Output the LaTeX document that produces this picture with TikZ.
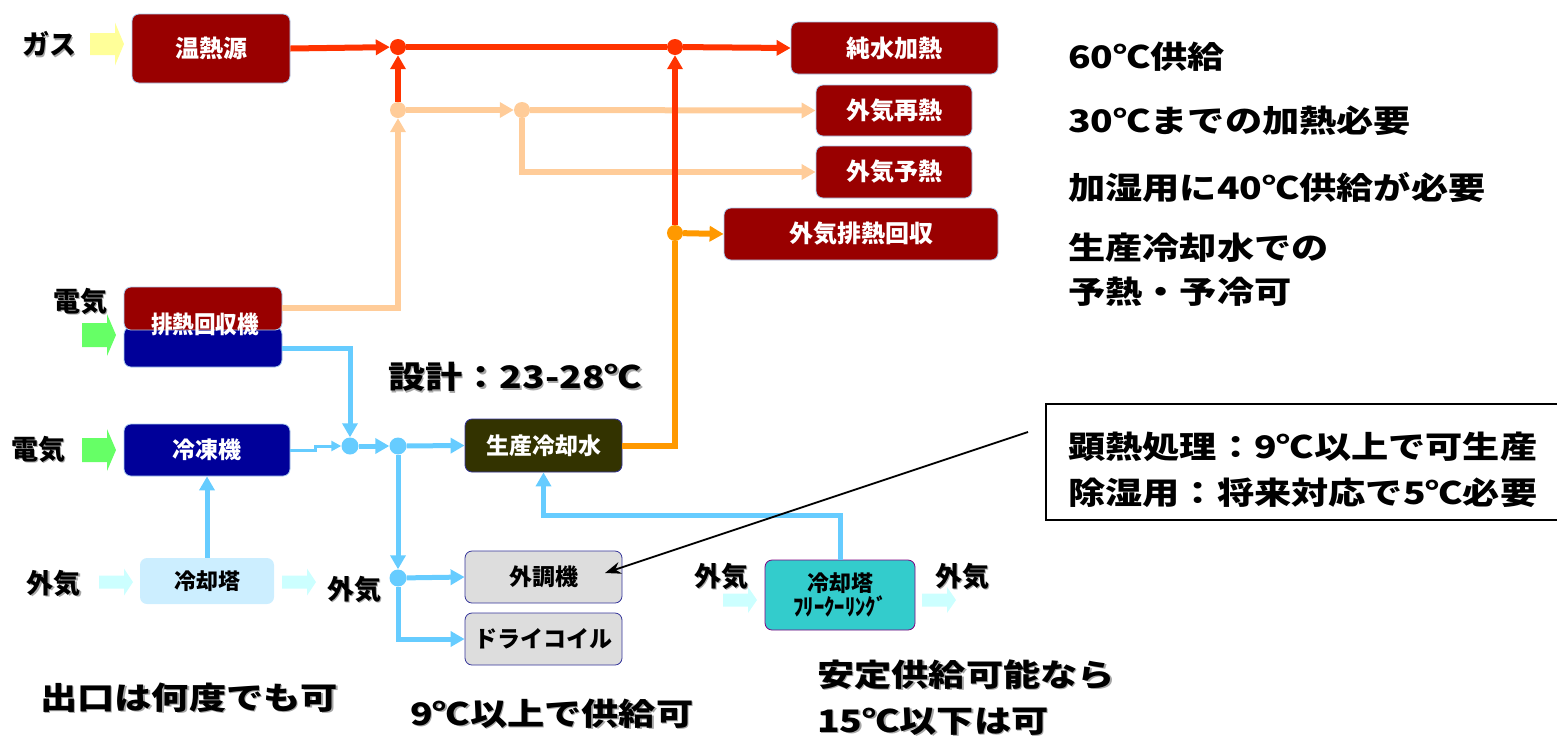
\documentclass[tikz,border=0pt]{standalone}
\usepackage{fontspec}
\setmainfont{Noto Sans CJK JP}
\newfontfamily\jp{Noto Sans CJK JP}
\newfontfamily\jpw{Noto Sans CJK JP}[FakeStretch=1.2]
\newfontfamily\jpn{Noto Sans CJK JP}[FakeStretch=0.9]
\usetikzlibrary{arrows.meta,shapes.geometric}
\definecolor{dkred}{HTML}{990000}
\definecolor{lred}{HTML}{FF3300}
\definecolor{peach}{HTML}{FFCC99}
\definecolor{orng}{HTML}{FF9900}
\definecolor{dkblue}{HTML}{000099}
\definecolor{lblue}{HTML}{66CCFF}
\definecolor{olive}{HTML}{333300}
\definecolor{gbox}{HTML}{DDDDDD}
\definecolor{gedge}{HTML}{333399}
\definecolor{teal}{HTML}{33CCCC}
\definecolor{purp}{HTML}{800080}
\definecolor{ctbox}{HTML}{CCEEFF}
\definecolor{yarr}{HTML}{FFFF99}
\definecolor{garr}{HTML}{66FF66}
\definecolor{carr}{HTML}{CCFFFF}
\definecolor{boxedge}{HTML}{AACCEE}
\newcommand\shd[1]{\makebox[0pt][l]{\kern1.5pt\raisebox{-1.5pt}{\color{black!35}#1}}#1}
% block arrow: x (left), y (centre), colour, body half-height, head half-height
\newcommand\barrow[5]{%
  \fill[#3] (#1,#2) ++(0,-#4) -- ++(25,0) -- ++(0,#4-#5) -- ++(9,#5)
     -- ++(-9,#5) -- ++(0,#4-#5) -- ++(-25,0) -- cycle;}
\begin{document}
\begin{tikzpicture}[x=1pt,y=-1pt,
  box/.style={rounded corners=7pt, line width=0.8pt, inner sep=0pt},
  redbox/.style={box, fill=dkred, draw=boxedge, text=white, font=\jp\bfseries\fontsize{24}{26}\selectfont},
  bluebox/.style={box, fill=dkblue, draw=boxedge, text=white, font=\jp\bfseries\fontsize{23}{26}\selectfont},
  graybox/.style={box, fill=gbox, draw=gedge, text=black, font=\jp\bfseries\fontsize{23}{26}\selectfont},
  lab/.style={font=\jp\bfseries\fontsize{27}{30}\selectfont, inner sep=0pt},
  big/.style={font=\jpw\bfseries\fontsize{31}{38}\selectfont, inner sep=0pt, anchor=west},
  rdot/.style={circle, fill=#1, minimum size=16pt, inner sep=0pt},
  bdot/.style={circle, fill=lblue, minimum size=17pt, inner sep=0pt},
  redl/.style={draw=lred, line width=6pt},
  peachl/.style={draw=peach, line width=6pt},
  orl/.style={draw=orng, line width=6pt},
  bluel/.style={draw=lblue, line width=5pt},
  tip/.style={-{Triangle[length=14pt,width=15pt]}},
  stip/.style={-{Triangle[length=10pt,width=10pt]}}
]
\useasboundingbox (0,0) rectangle (1557,740);

% ---------- boxes ----------
\node[redbox, minimum width=158pt, minimum height=69pt] (heat) at (211,48.5) {温熱源};
\node[redbox, minimum width=207pt, minimum height=52pt] (junsui) at (894.5,48) {純水加熱};
\node[redbox, minimum width=156pt, minimum height=51pt] (saine) at (894,110.5) {外気再熱};
\node[redbox, minimum width=156pt, minimum height=52pt] (yone) at (894,172) {外気予熱};
\node[redbox, minimum width=274pt, minimum height=52pt] (haine) at (861,234) {外気排熱回収};

% heat recovery unit (two halves)
\node[box, fill=dkblue, draw=boxedge, minimum width=158pt, minimum height=40pt] (hrbot) at (203,347) {};
\node[box, fill=dkred, draw=boxedge, minimum width=158pt, minimum height=43pt] (hrtop) at (203,308.5) {};
\node[text=white, font=\jpn\bfseries\fontsize{24}{26}\selectfont, inner sep=0pt] (hrtxt) at (205,324) {排熱回収機};

\node[bluebox, minimum width=166pt, minimum height=52pt] (reito) at (207,450) {冷凍機};
\node[box, fill=ctbox, text=black, minimum width=134pt, minimum height=46pt, font=\jp\bfseries\fontsize{22}{26}\selectfont] (ct) at (207,581) {冷却塔};

\node[box, fill=olive, draw=gedge, text=white, minimum width=157pt, minimum height=53pt, font=\jp\bfseries\fontsize{23}{26}\selectfont] (seisan) at (543.5,445.5) {生産冷却水};
\node[graybox, minimum width=157pt, minimum height=52pt] (gaicho) at (543.5,577) {外調機};
\node[graybox, minimum width=157pt, minimum height=52pt] (dry) at (543.5,639) {ドライコイル};
\node[box, fill=teal, draw=purp, text=black, minimum width=150pt, minimum height=70pt, align=center, font=\jp\bfseries\fontsize{22}{25}\selectfont] (fc) at (840,595)
  {冷却塔\\[-1pt]{\jpn\fontsize{23}{25}\selectfont ﾌﾘｰｸｰﾘﾝｸﾞ}};

% ---------- block arrows ----------
\barrow{90}{44}{yarr}{11}{21.5}
\barrow{82}{335}{garr}{12}{21}
\barrow{82}{450}{garr}{12}{21}
\barrow{99}{582}{carr}{6.5}{13.5}
\barrow{282}{582}{carr}{6.5}{13.5}
\barrow{723}{600}{carr}{6.5}{13}
\barrow{922}{600}{carr}{6.5}{13}

% ---------- junction dots ----------
\node[rdot=lred] (d1) at (398,47) {};
\node[rdot=lred] (d2) at (675,47) {};
\node[rdot=peach] (dp1) at (398,110) {};
\node[rdot=peach] (dp2) at (522,110) {};
\node[rdot=orng] (do) at (675,233) {};
\node[bdot] (db1) at (350,446) {};
\node[bdot] (db2) at (398,446) {};
\node[bdot] (db3) at (398,578) {};

% ---------- connectors: heat ----------
\draw[redl, tip] (heat.east) -- (d1);
\draw[redl] (d1) -- (d2);
\draw[redl, tip] (d2) -- (junsui.west);
\draw[peachl, tip] (hrtop.east |- 0,308) -| (dp1);
\draw[redl, tip] (dp1) -- (d1);
\draw[peachl, tip] (dp1) -- (dp2);
\draw[peachl, tip] (dp2) -- (saine.west);
\draw[peachl, tip] (dp2) |- (yone.west);
\draw[orl] (seisan.east) -| (do);
\draw[orl, tip] (do) -- (haine.west);
\draw[redl, tip] (do) -- (d2);

% ---------- connectors: cold ----------
\draw[bluel, tip] (hrbot.east |- 0,348) -| (db1);
\draw[draw=lblue, line width=3pt, stip] (reito.east) -- ++(25,0) -- ++(0,-4) -- (db1);
\draw[bluel, tip] (db1) -- (db2);
\draw[bluel, tip] (db2) -- (seisan.west);
\draw[bluel, tip] (db2) -- (db3);
\draw[bluel, tip] (db3) -- (gaicho.west);
\draw[bluel, tip] (db3) |- (dry.west);
\draw[bluel, tip] (ct.north) -- (reito.south);
\draw[bluel, tip] (fc.north) -- ++(0,-44) -| (seisan.south);

% ---------- side labels ----------
\node[lab] (gas) at (49,45) {\shd{ガス}};
\node[lab] (elec1) at (80,302) {\shd{電気}};
\node[lab] (elec2) at (38,450) {\shd{電気}};
\node[lab] (oa1) at (54,584) {\shd{外気}};
\node[lab] (oa2) at (354,590) {\shd{外気}};
\node[lab] (oa3) at (721,577) {\shd{外気}};
\node[lab] (oa4) at (962,577) {\shd{外気}};

% ---------- annotations ----------
\node[big] (t1) at (1068,57) {60℃供給};
\node[big] (t2) at (1068,121) {30℃までの加熱必要};
\node[big] (t3) at (1068,187) {加湿用に40℃供給が必要};
\node[big] (t4) at (1068,248) {生産冷却水での};
\node[big] (t5) at (1068,292) {予熱・予冷可};
\node[big] (design) at (388,378) {\shd{設計：23-28℃}};
\node[big] (outlet) at (40,698) {\shd{出口は何度でも可}};
\node[big] (nine) at (410,714) {\shd{9℃以上で供給可}};
\node[big] (stab1) at (817,675) {\shd{安定供給可能なら}};
\node[big] (stab2) at (817,722) {\shd{15℃以下は可}};

% notes box
\draw[line width=2pt] (1558,404) -- (1046,404) -- (1046,520) -- (1558,520);
\node[big] (n1) at (1068,447) {顕熱処理：9℃以上で可生産};
\node[big] (n2) at (1068,493) {除湿用：将来対応で5℃必要};
\coordinate (ptrA) at (1028,432);
\coordinate (ptrB) at (605,573);
\draw[line width=1.8pt, -{Stealth[length=16pt,width=12pt]}] (ptrA) -- (ptrB);
\end{tikzpicture}
\end{document}
